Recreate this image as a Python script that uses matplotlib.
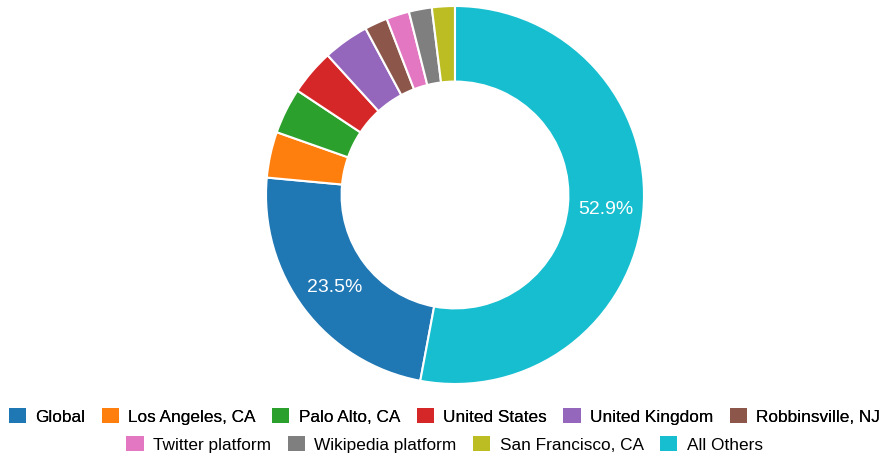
import matplotlib.pyplot as plt
from matplotlib.patches import Patch

plt.rcParams['font.family'] = ['Liberation Sans', 'DejaVu Sans']

labels = ["Global", "Los Angeles, CA", "Palo Alto, CA", "United States", "United Kingdom",
          "Robbinsville, NJ", "Twitter platform", "Wikipedia platform", "San Francisco, CA", "All Others"]
counts = [12, 2, 2, 2, 2, 1, 1, 1, 1, 27]
colors = ["#1f77b4", "#ff7f0e", "#2ca02c", "#d62728", "#9467bd",
          "#8c564b", "#e377c2", "#7f7f7f", "#bcbd22", "#17becf"]

total = sum(counts)
start = 90 - 360.0 * counts[-1] / total   # All Others starts at 12 o'clock going clockwise

fig = plt.figure(figsize=(8.89, 4.64), dpi=100)
ax = fig.add_axes([(455 - 189) / 889, 1 - (196 + 189) / 464, 378 / 889, 378 / 464])

def pct(p):
    return "%.1f%%" % p if p > 10 else ""

wedges, texts, autotexts = ax.pie(counts, colors=colors, startangle=start, counterclock=False,
                                  radius=1.0, autopct=pct, pctdistance=0.8,
                                  wedgeprops=dict(width=0.4, edgecolor="white", linewidth=1.5),
                                  textprops=dict(color="white", fontsize=14))
ax.set_aspect("equal")
ax.set_xlim(-1, 1)
ax.set_ylim(-1, 1)

handles = [Patch(facecolor=c, edgecolor="none") for c in colors]
kw = dict(frameon=False, handlelength=1.0, handleheight=1.0, handletextpad=0.55,
          columnspacing=0.95, fontsize=12.4, borderaxespad=0, borderpad=0)
leg1 = fig.legend(handles[:6], labels[:6], ncol=6, loc="center",
                  bbox_to_anchor=(0.5, 1 - 417 / 464), **kw)
fig.add_artist(leg1)
fig.legend(handles[6:], labels[6:], ncol=4, loc="center",
           bbox_to_anchor=(0.5, 1 - 445 / 464), **kw)

fig.savefig("out.png", dpi=100)
